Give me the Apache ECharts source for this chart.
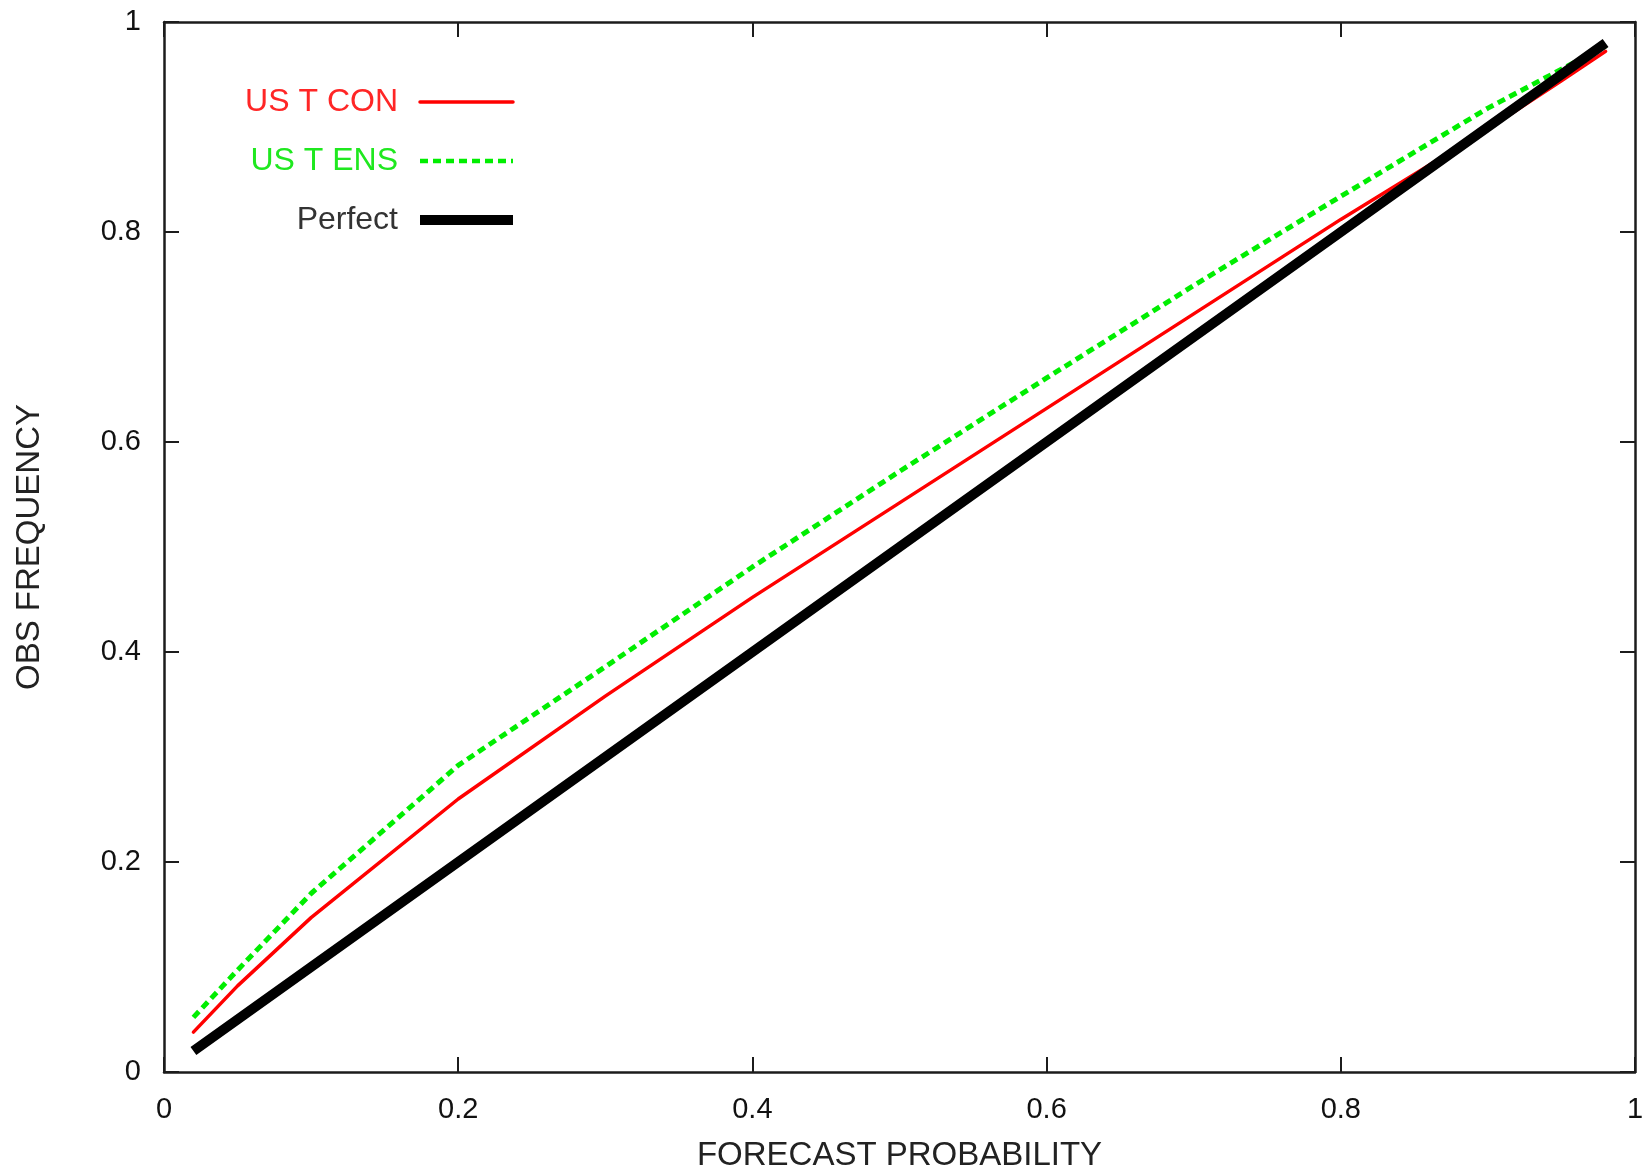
<!DOCTYPE html>
<html>
<head>
<meta charset="utf-8">
<script src="https://cdn.jsdelivr.net/npm/echarts@6/dist/echarts.min.js"></script>
<style>
  html, body { margin: 0; padding: 0; background: #ffffff; }
  #chart { width: 1650px; height: 1167px; }
</style>
</head>
<body>
<div id="chart"></div>
<script>
// Reliability diagram: observed frequency against forecast probability
const forecastProb = [0.02, 0.05, 0.1, 0.2, 0.3, 0.4, 0.5, 0.6, 0.7, 0.8, 0.9, 0.95, 0.98];
const obsCon       = [0.038, 0.082, 0.147, 0.260, 0.358, 0.452, 0.542, 0.632, 0.722, 0.812, 0.898, 0.944, 0.972];
const obsEns       = [0.052, 0.097, 0.170, 0.292, 0.386, 0.481, 0.572, 0.661, 0.749, 0.834, 0.918, 0.955, 0.977];
const obsPerfect   = [0.02, 0.05, 0.1, 0.2, 0.3, 0.4, 0.5, 0.6, 0.7, 0.8, 0.9, 0.95, 0.98];
const axisTicks    = [0, 0.2, 0.4, 0.6, 0.8, 1];

const seriesNames = ['US T CON', 'US T ENS', 'Perfect'];

const pairs = (xs, ys) => xs.map((x, i) => [x, ys[i]]);

const FONT = '"Liberation Sans", Arial, Helvetica, sans-serif';
const FRAME = '#1c1c1c';

function frameAxis(extra) {
  return Object.assign({
    type: 'value',
    min: axisTicks[0],
    max: axisTicks[axisTicks.length - 1],
    interval: axisTicks[1] - axisTicks[0],
    splitLine: { show: false },
    axisLine: { show: true, onZero: false, lineStyle: { color: FRAME, width: 2.5 } },
    axisTick: { show: true, inside: true, length: 15, lineStyle: { color: FRAME, width: 2 } },
    axisLabel: { show: false }
  }, extra);
}

const labelStyle = {
  show: true,
  color: '#111',
  fontFamily: FONT,
  fontSize: 29,
  margin: 23,
  formatter: v => String(v)
};

const chart = echarts.init(document.getElementById('chart'), null, { renderer: 'canvas' });

chart.setOption({
  backgroundColor: '#ffffff',
  animation: false,
  grid: { left: 164, right: 15, top: 22, bottom: 95, containLabel: false, outerBoundsMode: 'none' },
  xAxis: [
    frameAxis({
      position: 'bottom',
      axisLabel: labelStyle,
      name: 'FORECAST PROBABILITY',
      nameLocation: 'middle',
      nameGap: 67,
      nameTextStyle: { color: '#222', fontFamily: FONT, fontSize: 33 }
    }),
    frameAxis({ position: 'top' })
  ],
  yAxis: [
    frameAxis({
      position: 'left',
      axisLabel: labelStyle,
      name: 'OBS FREQUENCY',
      nameLocation: 'middle',
      nameGap: 118,
      nameTextStyle: { color: '#222', fontFamily: FONT, fontSize: 33 }
    }),
    frameAxis({ position: 'right' })
  ],
  legend: {
    orient: 'vertical',
    align: 'right',
    right: 1650 - 518,
    top: 86,
    padding: 0,
    itemWidth: 93,
    itemHeight: 14,
    itemGap: 27,
    selectedMode: false,
    itemStyle: { opacity: 0 },
    textStyle: { fontFamily: FONT, fontSize: 32, lineHeight: 32, padding: [0, 17, 0, 0] },
    data: [
      { name: seriesNames[0], textStyle: { color: '#ff2626' }, lineStyle: { width: 3.5 } },
      { name: seriesNames[1], textStyle: { color: '#1fe81f' }, lineStyle: { width: 4.5 } },
      { name: seriesNames[2], textStyle: { color: '#333333' }, lineStyle: { width: 10 } }
    ]
  },
  series: [
    {
      name: seriesNames[0],
      type: 'line',
      xAxisIndex: 0, yAxisIndex: 0,
      data: pairs(forecastProb, obsCon),
      symbol: 'none',
      lineStyle: { color: '#ff0000', width: 3.5, cap: 'round' },
      itemStyle: { color: '#ff0000' },
      z: 2
    },
    {
      name: seriesNames[1],
      type: 'line',
      xAxisIndex: 0, yAxisIndex: 0,
      data: pairs(forecastProb, obsEns),
      symbol: 'none',
      lineStyle: { color: '#00ee00', width: 5, type: [8, 5] },
      itemStyle: { color: '#00ee00' },
      z: 3
    },
    {
      name: seriesNames[2],
      type: 'line',
      xAxisIndex: 0, yAxisIndex: 0,
      data: pairs(forecastProb, obsPerfect),
      symbol: 'none',
      lineStyle: { color: '#000000', width: 10 },
      itemStyle: { color: '#000000' },
      z: 4
    }
  ]
});
</script>
</body>
</html>
